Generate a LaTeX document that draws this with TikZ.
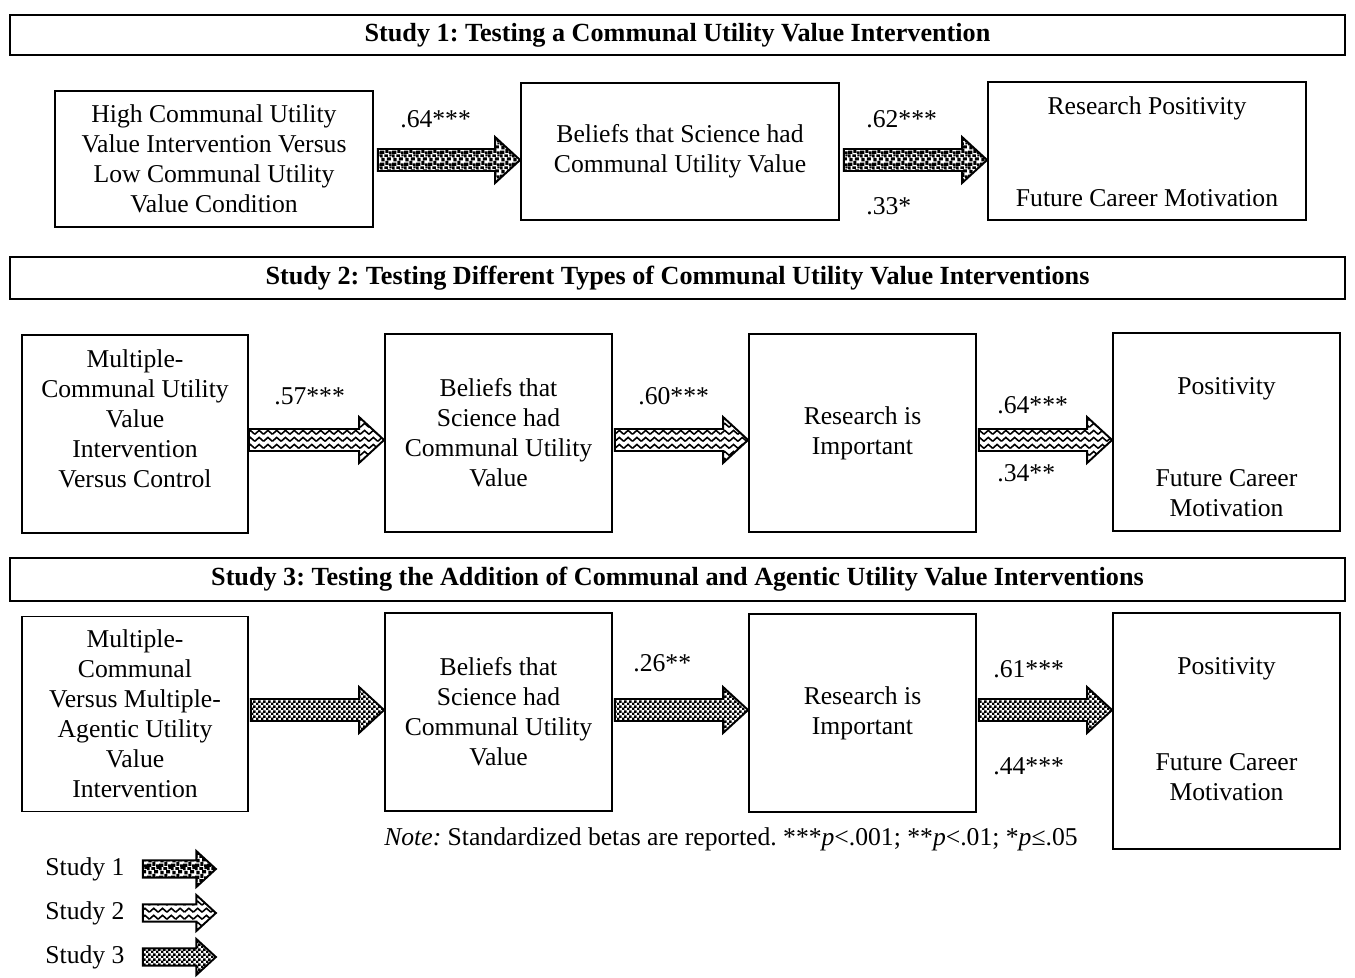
\documentclass[tikz,border=0pt]{standalone}
\usepackage{fontspec}
\setmainfont{Liberation Serif}
\usetikzlibrary{positioning,calc,patterns}
\frenchspacing

\newcommand{\boxfont}{\fontsize{14.6pt}{17.07pt}\selectfont}
\newcommand{\titlefont}{\fontsize{14.9pt}{17pt}\selectfont\bfseries}

% fill patterns of the three studies
\pgfdeclarepatternformonly{blotch}{\pgfpointorigin}{\pgfqpoint{7pt}{7pt}}{\pgfqpoint{7pt}{7pt}}{%
  \pgfpathrectangle{\pgfqpoint{0pt}{0pt}}{\pgfqpoint{2.6pt}{2pt}}%
  \pgfpathrectangle{\pgfqpoint{3.2pt}{0.6pt}}{\pgfqpoint{1.8pt}{2.4pt}}%
  \pgfpathrectangle{\pgfqpoint{5.4pt}{0pt}}{\pgfqpoint{1.6pt}{1.6pt}}%
  \pgfpathrectangle{\pgfqpoint{0.8pt}{2.8pt}}{\pgfqpoint{2pt}{2pt}}%
  \pgfpathrectangle{\pgfqpoint{4.2pt}{3.4pt}}{\pgfqpoint{2.4pt}{1.8pt}}%
  \pgfpathrectangle{\pgfqpoint{0pt}{5.2pt}}{\pgfqpoint{1.6pt}{1.8pt}}%
  \pgfpathrectangle{\pgfqpoint{2.6pt}{5.4pt}}{\pgfqpoint{2.2pt}{1.6pt}}%
  \pgfpathrectangle{\pgfqpoint{5.6pt}{5.8pt}}{\pgfqpoint{1.4pt}{1.2pt}}%
  \pgfusepath{fill}}
\pgfdeclarepatternformonly{waves}{\pgfqpoint{-0.5pt}{0pt}}{\pgfqpoint{5.5pt}{4pt}}{\pgfqpoint{5pt}{4pt}}{%
  \pgfsetlinewidth{0.9pt}%
  \pgfpathmoveto{\pgfqpoint{0pt}{0.9pt}}%
  \pgfpathlineto{\pgfqpoint{2.5pt}{3.1pt}}%
  \pgfpathlineto{\pgfqpoint{5pt}{0.9pt}}%
  \pgfusepath{stroke}}
\pgfdeclarepatternformonly{checker}{\pgfpointorigin}{\pgfqpoint{2.6pt}{2.6pt}}{\pgfqpoint{2.6pt}{2.6pt}}{%
  \pgfpathrectangle{\pgfqpoint{0pt}{0pt}}{\pgfqpoint{1.5pt}{1.5pt}}%
  \pgfpathrectangle{\pgfqpoint{1.3pt}{1.3pt}}{\pgfqpoint{1.5pt}{1.5pt}}%
  \pgfusepath{fill}}

\tikzset{
  titlebar/.style={draw, line width=1.1pt, minimum width=26.7cm,
    minimum height=#1, font=\titlefont, inner sep=0pt},
  varbox/.style={draw, line width=1.1pt, align=center, font=\boxfont,
    inner sep=2pt},
  boxtext/.style={align=center, font=\boxfont, inner sep=0pt},
  beta/.style={font=\boxfont, anchor=west, inner sep=0pt},
  fatline/.style={line width=1.1pt, line join=miter},
}

% block arrow: [scale]{pattern}{from}{to}
\newcommand{\fatarrow}[4][1]{%
  \draw[fatline, pattern=#2] let \p1=(#3), \p2=(#4) in
    (\x1,{\y1+#1*0.22cm}) -- ({\x2-#1*0.5cm},{\y1+#1*0.22cm})
    -- ({\x2-#1*0.5cm},{\y1+#1*0.46cm}) -- (\x2,\y1)
    -- ({\x2-#1*0.5cm},{\y1-#1*0.46cm}) -- ({\x2-#1*0.5cm},{\y1-#1*0.22cm})
    -- (\x1,{\y1-#1*0.22cm}) -- cycle;}

\begin{document}
\begin{tikzpicture}[x=0.02cm, y=-0.02cm]
  \useasboundingbox (0,0) rectangle (1355,977);

  % Study 1
  \node[titlebar=0.8cm] (t1) at (677.5,35)
    {Study 1: Testing a Communal Utility Value Intervention};
  \node[varbox, minimum width=6.36cm, minimum height=2.72cm] (s1a) at (214,159)
    {High Communal Utility\\Value Intervention Versus\\Low Communal Utility\\Value Condition};
  \node[varbox, minimum width=6.36cm, minimum height=2.74cm] (s1b) at (680,151.5)
    {Beliefs that Science had\\Communal Utility Value};
  \node[varbox, minimum width=6.36cm, minimum height=2.76cm] (s1c) at (1147,151) {};
  \node[boxtext, below=0.3cm of s1c.north] (s1ct)
    {Research Positivity\\[1.24cm]Future Career Motivation};

  \coordinate (r1) at (0,160);
  \fatarrow{blotch}{$(s1a.east |- r1)+(4,0)$}{s1b.west |- r1}
  \fatarrow{blotch}{$(s1b.east |- r1)+(4,0)$}{s1c.west |- r1}
  \node[beta] (b1a) at (400,119) {.64***};
  \node[beta] (b1b) at (866,119) {.62***};
  \node[beta] (b1c) at (866,206) {.33*};

  % Study 2
  \node[titlebar=0.84cm] (t2) at (677.5,278)
    {Study 2: Testing Different Types of Communal Utility Value Interventions};
  \node[varbox, minimum width=4.52cm, minimum height=3.96cm] (s2a) at (135,434) {};
  \node[boxtext, below=0.3cm of s2a.north] (s2at)
    {Multiple-\\Communal Utility\\Value\\Intervention\\Versus Control};
  \node[varbox, minimum width=4.54cm, minimum height=3.96cm] (s2b) at (498.5,433)
    {Beliefs that\\Science had\\Communal Utility\\Value};
  \node[varbox, minimum width=4.54cm, minimum height=3.96cm] (s2c) at (862.5,433)
    {Research is\\Important};
  \node[varbox, minimum width=4.54cm, minimum height=3.96cm] (s2d) at (1226.5,432) {};
  \node[boxtext, below=0.9cm of s2d.north] (s2dt)
    {Positivity\\[1.24cm]Future Career\\Motivation};

  \coordinate (r2) at (0,440);
  \fatarrow{waves}{s2a.east |- r2}{s2b.west |- r2}
  \fatarrow{waves}{$(s2b.east |- r2)+(2,0)$}{s2c.west |- r2}
  \fatarrow{waves}{$(s2c.east |- r2)+(2,0)$}{s2d.west |- r2}
  \node[beta] (b2a) at (274,396) {.57***};
  \node[beta] (b2b) at (638,396) {.60***};
  \node[beta] (b2c) at (997,405) {.64***};
  \node[beta] (b2d) at (997,473) {.34**};

  % Study 3
  \node[titlebar=0.86cm] (t3) at (677.5,579.5)
    {Study 3: Testing the Addition of Communal and Agentic Utility Value Interventions};
  \node[varbox, minimum width=4.52cm, minimum height=3.9cm] (s3a) at (135,714)
    {Multiple-\\Communal\\Versus Multiple-\\Agentic Utility\\Value\\Intervention};
  \node[varbox, minimum width=4.54cm, minimum height=3.96cm] (s3b) at (498.5,712)
    {Beliefs that\\Science had\\Communal Utility\\Value};
  \node[varbox, minimum width=4.54cm, minimum height=3.96cm] (s3c) at (862.5,713)
    {Research is\\Important};
  \node[varbox, minimum width=4.54cm, minimum height=4.72cm] (s3d) at (1226.5,731) {};
  \node[boxtext, below=0.9cm of s3d.north] (s3dt)
    {Positivity\\[1.32cm]Future Career\\Motivation};

  \coordinate (r3) at (0,710);
  \fatarrow{checker}{$(s3a.east |- r3)+(2,0)$}{s3b.west |- r3}
  \fatarrow{checker}{$(s3b.east |- r3)+(2,0)$}{s3c.west |- r3}
  \fatarrow{checker}{$(s3c.east |- r3)+(2,0)$}{s3d.west |- r3}
  \node[beta] (b3a) at (633,663) {.26**};
  \node[beta] (b3b) at (993,669) {.61***};
  \node[beta] (b3c) at (993,766) {.44***};

  \node[boxtext] (note) at (731,839)
    {\textit{Note:} Standardized betas are reported. ***\textit{p}<.001; **\textit{p}<.01; *\textit{p}≤.05};

  % legend
  \node[boxtext] (l1) at (85,869) {Study 1};
  \node[boxtext] (l2) at (85,913) {Study 2};
  \node[boxtext] (l3) at (85,957) {Study 3};
  \fatarrow[0.78]{blotch}{$(l1.east)+(18,0)$}{$(l1.east)+(91,0)$}
  \fatarrow[0.78]{waves}{$(l2.east)+(18,0)$}{$(l2.east)+(91,0)$}
  \fatarrow[0.78]{checker}{$(l3.east)+(18,0)$}{$(l3.east)+(91,0)$}
\end{tikzpicture}
\end{document}
